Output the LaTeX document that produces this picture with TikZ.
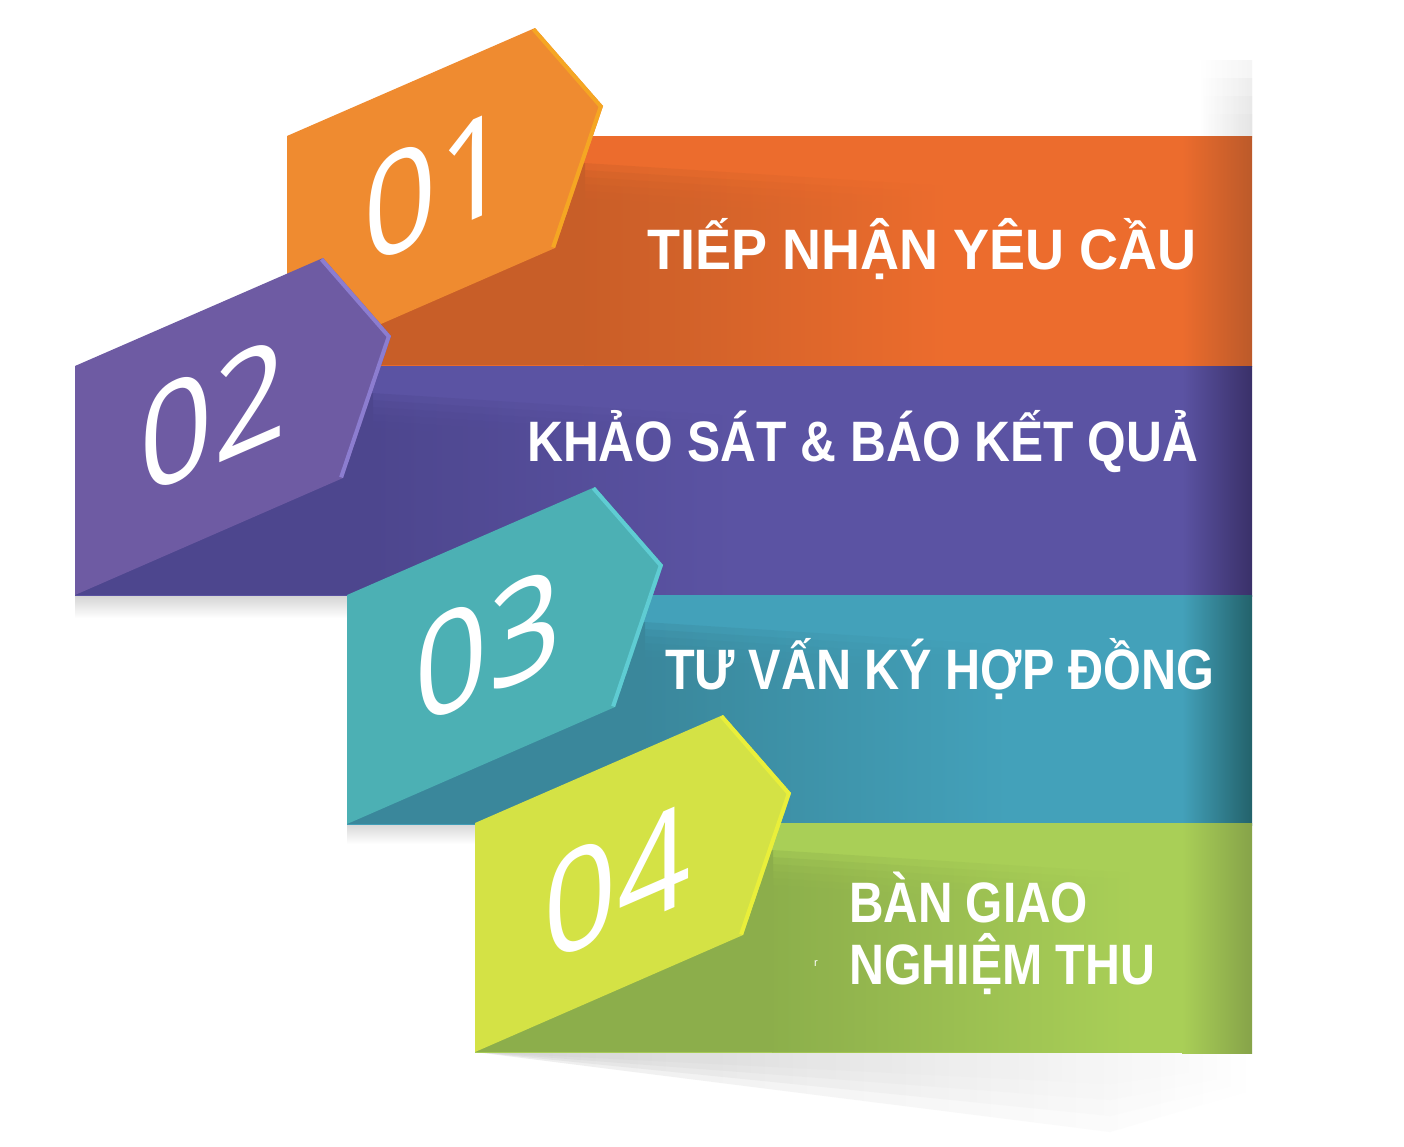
\documentclass[tikz,border=0pt]{standalone}
\usepackage{fontspec}
\setmainfont{Liberation Sans}
\newfontfamily\digitfont{Open Sans}
\usepackage{graphicx}
\definecolor{oTab}{HTML}{EF8B30}\definecolor{oBev}{HTML}{F5A623}\definecolor{oBand}{HTML}{EC6C2D}\definecolor{oFold}{HTML}{C85E28}\definecolor{oEdge}{HTML}{BC5A2A}
\definecolor{pTab}{HTML}{6E5BA3}\definecolor{pBev}{HTML}{8C7DD0}\definecolor{pBand}{HTML}{5B53A3}\definecolor{pFold}{HTML}{4D468E}\definecolor{pEdge}{HTML}{3A3069}
\definecolor{tTab}{HTML}{4CB0B4}\definecolor{tBev}{HTML}{5FCCD3}\definecolor{tBand}{HTML}{43A1BA}\definecolor{tFold}{HTML}{3A879B}\definecolor{tEdge}{HTML}{23626B}
\definecolor{gTab}{HTML}{D4E245}\definecolor{gBev}{HTML}{E9EF3A}\definecolor{gBand}{HTML}{A9CF57}\definecolor{gFold}{HTML}{8CAE4B}\definecolor{gEdge}{HTML}{86A349}
\definecolor{shadowgrey}{HTML}{C8C8C8}
\newcommand\mkband[7]{%
 \begin{scope}[shift={(#1,#2)}]
  \pgfmathsetmacro\bw{1252-#1}
  \fill[#5] (0,0) rectangle (\bw,230);
  \shade[left color=#5, right color=#7] (\bw-70,0) rectangle (\bw,230);
  \fill[#6] (0,120) -- (298,27) -- (298,229) -- (0,229) -- cycle;
  \foreach \k in {0,...,5}{
   \shade[left color=#6, right color=#5, fill opacity=0.36] (297,27+7*\k) -- (660,50+7*\k) -- (660,229) -- (297,229) -- cycle;}
  \fill[#3] (0,0) -- (248,-108) -- (316,-30) -- (268,112) -- (0,229) -- cycle;
  \begin{scope}
   \clip (0,0) -- (248,-108) -- (316,-30) -- (268,112) -- (0,229) -- cycle;
   \draw[#4, line width=8pt, line join=round] (248,-108) -- (316,-30) -- (268,112);
  \end{scope}
 \end{scope}}
\tikzset{
 numtxt/.style={text=white, font=\digitfont\fontsize{140}{140}\selectfont, inner sep=0pt, yslant=0.435, xscale=0.92},
 lbl/.style={text=white, font=\bfseries\fontsize{57}{57}\selectfont, anchor=base west, inner sep=0pt},
}
\begin{document}
\begin{tikzpicture}[x=1pt,y=-1pt]
\useasboundingbox (0,0) rectangle (1404,1146);
\fill[white] (0,0) rectangle (1404,1146);
% soft grey shadows
\foreach \k in {0,...,3}{
 \shade[left color=white, right color=shadowgrey!60, fill opacity=0.3] (1200,60+18*\k) rectangle (1252,137);}
\shade[top color=shadowgrey!80, bottom color=white] (75,595) rectangle (347,618);
\shade[top color=shadowgrey!80, bottom color=white] (347,822) rectangle (475,844);
\foreach \k in {0,...,3}{
 \shade[left color=shadowgrey, right color=white, fill opacity=0.32] (475,1052) -- (1252,1052) -- (1252,1090-9*\k) -- (1110,1132-16*\k) -- cycle;}
% bands and tabs
\mkband{287}{136}{oTab}{oBev}{oBand}{oFold}{oEdge}
\node[lbl] (t1) at (647,269) {\resizebox{549pt}{\height}{TIẾP NHẬN YÊU CẦU}};
\node[numtxt] (n1) at (437,185) {01};
\mkband{75}{366}{pTab}{pBev}{pBand}{pFold}{pEdge}
\node[lbl] (t2) at (527,461) {\resizebox{671pt}{\height}{KHẢO SÁT \& BÁO KẾT QUẢ}};
\node[numtxt] (n2) at (213,415) {02};
\mkband{347}{595}{tTab}{tBev}{tBand}{tFold}{tEdge}
\node[lbl] (t3) at (665,689) {\resizebox{549pt}{\height}{TƯ VẤN KÝ HỢP ĐỒNG}};
\node[numtxt] (n3) at (488,645) {03};
\mkband{475}{823}{gTab}{gBev}{gBand}{gFold}{gEdge}
\node[lbl] (t4a) at (849,922) {\resizebox{239pt}{\height}{BÀN GIAO}};
\node[lbl] (t4b) at (849,984) {\resizebox{306pt}{\height}{NGHIỆM THU}};
\node[text=white, font=\fontsize{11}{11}\selectfont, inner sep=0pt] (stray) at (816,964) {r};
\node[numtxt] (n4) at (617,882) {04};
\end{tikzpicture}
\end{document}
